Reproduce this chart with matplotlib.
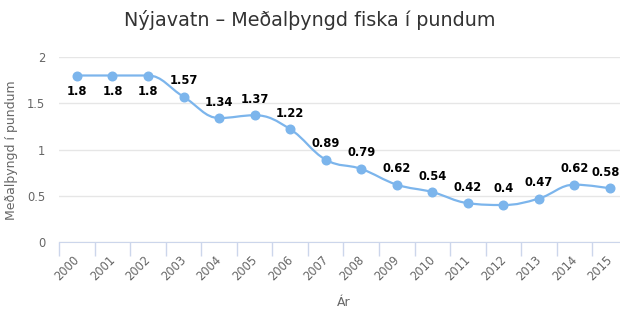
import numpy as np
import matplotlib.pyplot as plt
import matplotlib.transforms as mtrans
from matplotlib.path import Path
from matplotlib.patches import PathPatch

# data
years = ['2000', '2001', '2002', '2003', '2004', '2005', '2006', '2007',
         '2008', '2009', '2010', '2011', '2012', '2013', '2014', '2015']
weights = [1.8, 1.8, 1.8, 1.57, 1.34, 1.37, 1.22, 0.89,
           0.79, 0.62, 0.54, 0.42, 0.4, 0.47, 0.62, 0.58]
label_below = [True, True, True] + [False] * 13

title = 'Nýjavatn – Meðalþyngd fiska í pundum'
ylabel = 'Meðalþyngd í pundum'
xlabel = 'Ár'

line_col = '#7cb5ec'
grid_col = '#e6e6e6'
axis_col = '#ccd6eb'
text_col = '#666666'


def spline_path(xs, ys, smoothing=1.5):
    # highcharts-style spline, bezier control points per point
    n = len(xs)
    denom = smoothing + 1
    lc = [None] * n
    rc = [None] * n
    for i in range(1, n - 1):
        x, y = xs[i], ys[i]
        lx, ly = xs[i - 1], ys[i - 1]
        nx, ny = xs[i + 1], ys[i + 1]
        lcx = (smoothing * x + lx) / denom
        lcy = (smoothing * y + ly) / denom
        rcx = (smoothing * x + nx) / denom
        rcy = (smoothing * y + ny) / denom
        corr = (rcy - lcy) * (rcx - x) / (rcx - lcx) + y - rcy
        lcy += corr
        rcy += corr
        if lcy > ly and lcy > y:
            lcy = max(ly, y); rcy = 2 * y - lcy
        elif lcy < ly and lcy < y:
            lcy = min(ly, y); rcy = 2 * y - lcy
        if rcy > ny and rcy > y:
            rcy = max(ny, y); lcy = 2 * y - rcy
        elif rcy < ny and rcy < y:
            rcy = min(ny, y); lcy = 2 * y - rcy
        lc[i] = (lcx, lcy)
        rc[i] = (rcx, rcy)
    verts = [(xs[0], ys[0])]
    codes = [Path.MOVETO]
    for i in range(1, n):
        c1 = rc[i - 1] if rc[i - 1] else (xs[i - 1], ys[i - 1])
        c2 = lc[i] if lc[i] else (xs[i], ys[i])
        verts += [c1, c2, (xs[i], ys[i])]
        codes += [Path.CURVE4] * 3
    return Path(verts, codes)


fig = plt.figure(figsize=(6.2, 3.3), dpi=100)
# plot area runs a bit past the right edge, as in the original
ax = fig.add_axes([59.2 / 620, 88 / 330, 568.5 / 620, 185 / 330])

x = np.arange(len(years))
ax.set_xlim(-0.5, len(years) - 0.5)
ax.set_ylim(0, 2)

ax.add_patch(PathPatch(spline_path(x, weights), fill=False, edgecolor=line_col,
                       lw=1.6, zorder=3))
ax.plot(x, weights, 'o', color=line_col, ms=6.2, zorder=4)

for i, (xi, v, below) in enumerate(zip(x, weights, label_below)):
    dx = -4 if i == len(x) - 1 else 0  # keep last label inside the picture
    ax.annotate(('%g' % v), (xi, v), xytext=(dx, -16 if below else 16),
                textcoords='offset pixels', ha='center', va='center',
                fontsize=8.3, fontweight='bold', color='black', zorder=5,
                annotation_clip=False)

ax.set_yticks([0, 0.5, 1, 1.5, 2])
ax.set_yticklabels(['0', '0.5', '1', '1.5', '2'])
ax.grid(axis='y', color=grid_col, lw=1)
ax.set_axisbelow(True)

ax.set_xticks(x)
ax.set_xticklabels(years, rotation=45, ha='right', rotation_mode='anchor')
ax.set_xticks(np.arange(len(years)) + 0.5 - 1, minor=True)
ax.tick_params(axis='x', which='major', length=0, pad=8, labelsize=8.3, labelcolor=text_col)
ax.tick_params(axis='x', which='minor', length=10, color=axis_col, width=1)
ax.tick_params(axis='y', length=0, pad=10, labelsize=8.3, labelcolor=text_col)
shift = mtrans.ScaledTranslation(-4 / 100, 0, fig.dpi_scale_trans)
for lab in ax.get_xticklabels():
    lab.set_transform(lab.get_transform() + shift)

for s in ['top', 'right', 'left']:
    ax.spines[s].set_visible(False)
ax.spines['bottom'].set_color(axis_col)

fig.text(0.5, 1 - 20 / 330, title, ha='center', va='center', fontsize=13.8, color='#333333')
fig.text(12 / 620, 1 - 150 / 330, ylabel, rotation=90, ha='center', va='center',
         fontsize=9, color=text_col)
fig.text(344 / 620, 1 - 302 / 330, xlabel, ha='center', va='center', fontsize=9,
         color=text_col)

fig.savefig('out.png', dpi=100)
